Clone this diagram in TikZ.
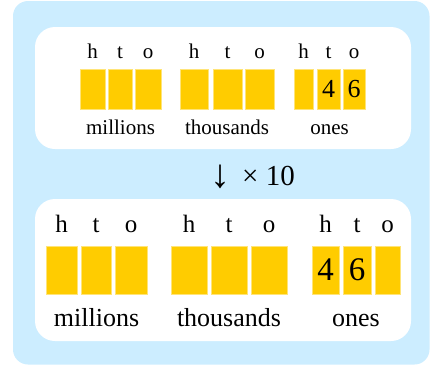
\documentclass[tikz,border=0pt]{standalone}
\usepackage{fontspec}
\setmainfont{Liberation Serif}
\definecolor{skyback}{RGB}{204,237,255}
\definecolor{digitfill}{RGB}{255,204,0}
\definecolor{digitedge}{RGB}{255,228,120}

\begin{document}
\begin{tikzpicture}[x=1pt, y=-1pt,
    panel/.style={fill=white, rounded corners=20pt},
    cell/.style={draw=digitedge, fill=digitfill, line width=0.8pt, inner sep=0pt,
                 minimum height=40pt, font=\fontsize{26}{30}\selectfont},
    bigcell/.style={cell, minimum height=48pt, font=\fontsize{33}{38}\selectfont},
    col/.style={anchor=base, font=\fontsize{21}{25}\selectfont},
    bigcol/.style={anchor=base, font=\fontsize{25}{30}\selectfont},
    grp/.style={anchor=base, font=\fontsize{21}{25}\selectfont},
    biggrp/.style={anchor=base, font=\fontsize{26}{31}\selectfont}
]
  \useasboundingbox (0,0) rectangle (430,365);
  \fill[skyback, rounded corners=15pt] (13,1) rectangle (429.5,364.5);
  \fill[panel] (35,27) rectangle (411,149);
  \fill[panel] (35,199) rectangle (411,341);

  % Top: millions
  \node[cell, minimum width=25pt] (tm1) at (92.5,89) {};
  \node[cell, minimum width=24pt] (tm2) at (120,89)  {};
  \node[cell, minimum width=26pt] (tm3) at (148,89)  {};
  \node[col] at (92.5,58) {h};
  \node[col] at (120,58)  {t};
  \node[col] at (148,58)  {o};
  \node[grp] (tmil) at (120.5,134) {millions};

  % Top: thousands
  \node[cell, minimum width=28pt] (tt1) at (194,89)   {};
  \node[cell, minimum width=29pt] (tt2) at (227.5,89) {};
  \node[cell, minimum width=29pt] (tt3) at (259.5,89) {};
  \node[col] at (194,58)   {h};
  \node[col] at (227.5,58) {t};
  \node[col] at (259.5,58) {o};
  \node[grp] (tthou) at (227,134) {thousands};

  % Top: ones
  \node[cell, minimum width=19pt] (to1) at (303.5,89) {};
  \node[cell, minimum width=23pt] (to2) at (328.5,89) {4};
  \node[cell, minimum width=22pt] (to3) at (354,89)   {6};
  \node[col] at (303.5,58) {h};
  \node[col] at (328.5,58) {t};
  \node[col] at (354,58)   {o};
  \node[grp] (tone) at (329.5,134) {ones};

  % times ten
  \node[font=\fontsize{40}{44}\selectfont] (arr) at (220.5,177) {↓};
  \node[anchor=base, font=\fontsize{29}{34}\selectfont] (mult) at (268.5,185) {× 10};

  % Bottom: millions
  \node[bigcell, minimum width=31pt] (bm1) at (61.5,270) {};
  \node[bigcell, minimum width=30pt] (bm2) at (96,270)   {};
  \node[bigcell, minimum width=32pt] (bm3) at (131,270)  {};
  \node[bigcol] at (61.5,232) {h};
  \node[bigcol] at (96,232)   {t};
  \node[bigcol] at (131,232)  {o};
  \node[biggrp] (bmil) at (96.5,326) {millions};

  % Bottom: thousands
  \node[bigcell, minimum width=36pt] (bt1) at (189,270) {};
  \node[bigcell, minimum width=36pt] (bt2) at (229,270) {};
  \node[bigcell, minimum width=36pt] (bt3) at (269,270) {};
  \node[bigcol] at (189,232) {h};
  \node[bigcol] at (229,232) {t};
  \node[bigcol] at (269,232) {o};
  \node[biggrp] (bthou) at (229,326) {thousands};

  % Bottom: ones
  \node[bigcell, minimum width=27pt] (bo1) at (325.5,270) {4};
  \node[bigcell, minimum width=28pt] (bo2) at (357,270)   {6};
  \node[bigcell, minimum width=25pt] (bo3) at (387.5,270) {};
  \node[bigcol] at (325.5,232) {h};
  \node[bigcol] at (357,232)   {t};
  \node[bigcol] at (387.5,232) {o};
  \node[biggrp] (bone) at (356,326) {ones};
\end{tikzpicture}
\end{document}
